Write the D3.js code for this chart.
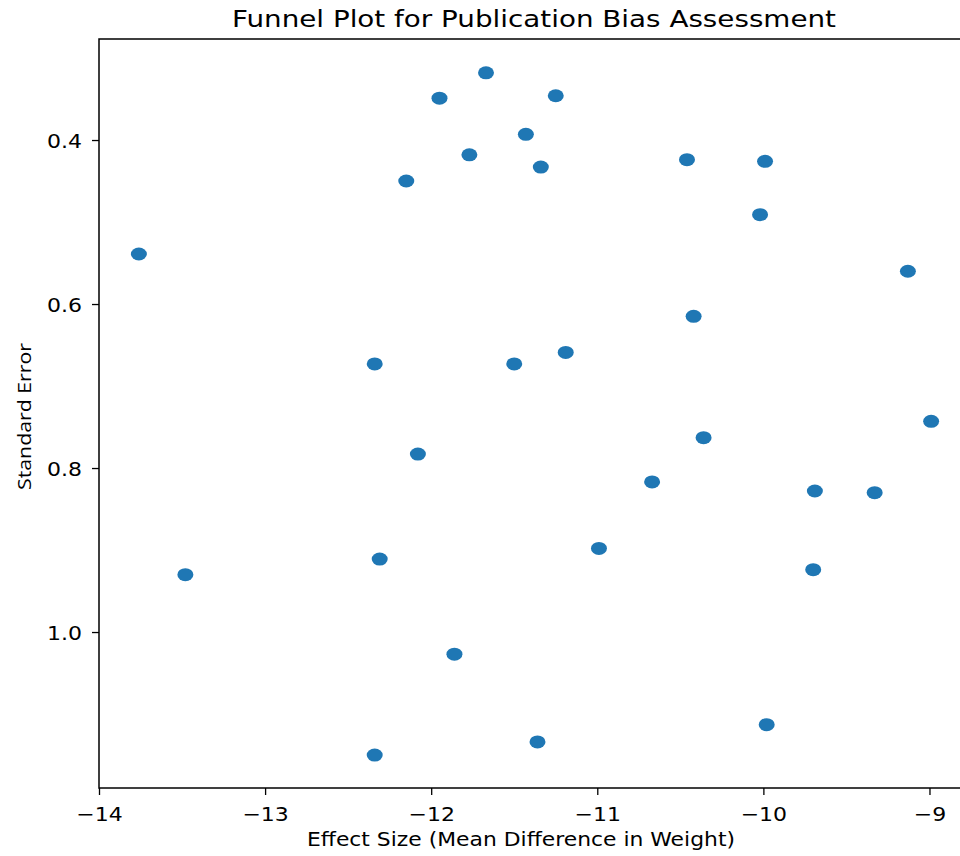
<!DOCTYPE html>
<html><head><meta charset="utf-8">
<script src="https://cdn.jsdelivr.net/npm/d3@7"></script>
<style>body{margin:0;background:#fff;} svg{display:block;}</style>
</head><body>
<script>
const effectSize = [-11.67,-11.95,-11.25,-11.43,-11.77,-11.34,-12.15,-10.46,-9.99,-10.02,
  -13.76,-9.13,-10.42,-11.19,-11.50,-12.34,-8.99,-10.36,-12.08,-10.67,
  -9.69,-9.33,-10.99,-12.31,-13.48,-9.70,-11.86,-9.98,-11.36,-12.34];
const standardError = [0.318,0.349,0.346,0.393,0.418,0.433,0.450,0.424,0.426,0.491,
  0.539,0.560,0.615,0.659,0.673,0.673,0.743,0.763,0.783,0.817,
  0.828,0.830,0.898,0.911,0.930,0.924,1.027,1.113,1.134,1.150];
const xTicks = [-14,-13,-12,-11,-10,-9];
const yTicks = [0.4,0.6,0.8,1.0];
const titleText = "Funnel Plot for Publication Bias Assessment";
const xLabel = "Effect Size (Mean Difference in Weight)";
const yLabel = "Standard Error";

const W=960,H=856, L=99, T=39, R=971, B=788;
const svg=d3.select("body").append("svg").attr("width",W).attr("height",H);
const x=d3.scaleLinear().domain([-14,-8.75]).range([L,R]);
const y=d3.scaleLinear().domain([0.2768,1.1902]).range([T,B]);
const font="DejaVu Sans, sans-serif";

svg.append("g").selectAll("ellipse").data(effectSize).join("ellipse")
  .attr("cx",(d)=>x(d)).attr("cy",(d,i)=>y(standardError[i]))
  .attr("rx",8).attr("ry",6.5).attr("fill","#1f77b4");

const minus = d=>d3.format(".0f")(d).replace("-","\u2212");
const xa=svg.append("g").attr("transform",`translate(0,${B})`)
  .call(d3.axisBottom(x).tickValues(xTicks).tickFormat(minus).tickSize(7).tickSizeOuter(0));
const ya=svg.append("g").attr("transform",`translate(${L},0)`)
  .call(d3.axisLeft(y).tickValues(yTicks).tickFormat(d3.format(".1f")).tickSize(7).tickSizeOuter(0));
[xa,ya].forEach(a=>{a.select(".domain").remove();
  a.selectAll("line").attr("stroke","#000").attr("stroke-width",1.3);
  a.selectAll("text").attr("fill","#000").style("font-family",font).style("font-size","20px");});
xa.selectAll("text").attr("y",0).attr("dy",0).attr("transform","translate(0,33) scale(1.1,1)");
ya.selectAll("text").attr("x",0).attr("dy","0.38em").attr("transform","translate(-17,0) scale(1.1,1)");
svg.append("rect").attr("x",L).attr("y",T).attr("width",R-L).attr("height",B-T)
  .attr("fill","none").attr("stroke","#000").attr("stroke-width",1.5);

svg.append("text").attr("x",534).attr("y",27).attr("text-anchor","middle")
  .attr("textLength",604).attr("lengthAdjust","spacingAndGlyphs")
  .style("font-family",font).style("font-size","23px").text(titleText);
svg.append("text").attr("x",521).attr("y",846).attr("text-anchor","middle")
  .attr("textLength",428).attr("lengthAdjust","spacingAndGlyphs")
  .style("font-family",font).style("font-size","19px").text(xLabel);
svg.append("text").attr("transform",`translate(31,416.5) rotate(-90)`).attr("text-anchor","middle")
  .attr("textLength",147).attr("lengthAdjust","spacingAndGlyphs")
  .style("font-family","'Open Sans', sans-serif").style("font-size","19px").text(yLabel);
</script>
</body></html>
